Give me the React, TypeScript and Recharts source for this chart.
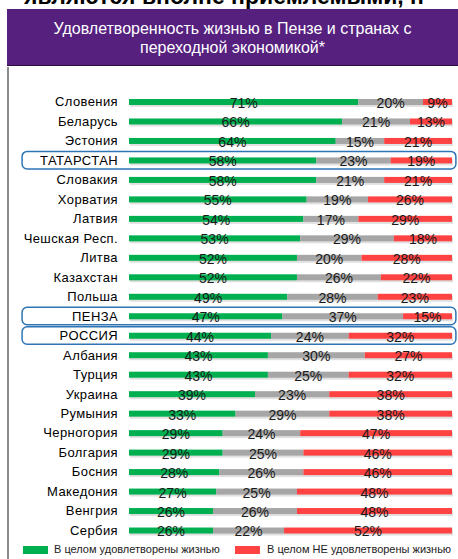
import React from "react";
import { BarChart, Bar, XAxis, YAxis, LabelList, ReferenceArea } from "recharts";

const countries = [
  "Словения", "Беларусь", "Эстония", "ТАТАРСТАН", "Словакия", "Хорватия",
  "Латвия", "Чешская Респ.", "Литва", "Казахстан", "Польша", "ПЕНЗА",
  "РОССИЯ", "Албания", "Турция", "Украина", "Румыния", "Черногория",
  "Болгария", "Босния", "Македония", "Венгрия", "Сербия",
];
const satisfied = [71, 66, 64, 58, 58, 55, 54, 53, 52, 52, 49, 47, 44, 43, 43, 39, 33, 29, 29, 28, 27, 26, 26];
const neutral = [20, 21, 15, 23, 21, 19, 17, 29, 20, 26, 28, 37, 24, 30, 25, 23, 29, 24, 25, 26, 25, 26, 22];
const unsatisfied = [9, 13, 21, 19, 21, 26, 29, 18, 28, 22, 23, 15, 32, 27, 32, 38, 38, 47, 46, 46, 48, 48, 52];
const highlighted = ["ТАТАРСТАН", "ПЕНЗА", "РОССИЯ"];

const data = countries.map((name, i) => ({
  name,
  yes: satisfied[i],
  mid: neutral[i],
  no: unsatisfied[i],
}));

const GREEN = "#00B050";
const GRAY = "#A6A6A6";
const RED = "#FF4343";
const FONT = "Arial, 'Liberation Sans', sans-serif";
const NUM_FONT = "'Liberation Sans Narrow', 'Arial Narrow', Arial, sans-serif";

function ShadowBar(props: any) {
  const { x, y, width, height, fill } = props;
  if (!width || width <= 0) return null;
  return (
    <g>
      <rect x={x + 1} y={y + 2} width={width} height={height} fill="#000" opacity={0.12} />
      <rect x={x} y={y} width={width} height={height} fill={fill} />
    </g>
  );
}

function HighlightBox(props: any) {
  const { x, y, width, height } = props;
  return (
    <rect
      x={x}
      y={y + 1}
      width={width}
      height={height - 2}
      rx={5}
      ry={5}
      fill="none"
      stroke="#2E75B6"
      strokeWidth={1.5}
    />
  );
}

const labelStyle = { fill: "#1a1a1a", fontSize: 14, fontFamily: NUM_FONT };
const pct = (v: any) => `${v}%`;

export default function App() {
  return (
    <div style={{ position: "absolute", left: 0, top: 0, width: 458, height: 559, overflow: "hidden", background: "#fff", fontFamily: FONT }}>
      <div style={{ position: "absolute", left: 24, top: -17, fontSize: 23, fontWeight: "bold", color: "#000", whiteSpace: "nowrap" }}>
        являются вполне приемлемыми, н
      </div>
      <div
        style={{
          position: "absolute",
          left: 7,
          top: 9,
          width: 451,
          height: 57,
          background: "#56207F",
          borderBottom: "1.5px solid #2a0f40",
          color: "#fff",
          fontSize: 16,
          lineHeight: "19px",
          textAlign: "center",
          paddingTop: 10,
          boxSizing: "border-box",
        }}
      >
        Удовлетворенность жизнью в Пензе и странах с
        <br />
        переходной экономикой*
      </div>
      <div style={{ position: "absolute", left: 7, top: 67, width: 2, height: 492, background: "#8c8c8c" }} />
      <div style={{ position: "absolute", left: 0, top: 0 }}>
        <BarChart
          width={458}
          height={559}
          data={data}
          layout="vertical"
          stackOffset="expand"
          barSize={6}
          margin={{ top: 92, right: 6, bottom: 19, left: 0 }}
        >
          <XAxis type="number" hide domain={[0, 1]} />
          <YAxis
            type="category"
            dataKey="name"
            width={129}
            axisLine={false}
            tickLine={false}
            tickSize={0}
            tickMargin={11}
            interval={0}
            tick={{ fill: "#000", fontSize: 13, fontFamily: FONT, letterSpacing: 0.4 }}
          />
          {highlighted.map((h) => (
            <ReferenceArea
              key={h}
              y1={h}
              y2={h}
              x1={-0.331}
              x2={1.012}
              ifOverflow="visible"
              shape={<HighlightBox />}
            />
          ))}
          <Bar dataKey="yes" stackId="s" fill={GREEN} shape={<ShadowBar />} isAnimationActive={false}>
            <LabelList dataKey="yes" position="center" formatter={pct} style={labelStyle} dy={1} />
          </Bar>
          <Bar dataKey="mid" stackId="s" fill={GRAY} shape={<ShadowBar />} isAnimationActive={false}>
            <LabelList dataKey="mid" position="center" formatter={pct} style={labelStyle} dy={1} />
          </Bar>
          <Bar dataKey="no" stackId="s" fill={RED} shape={<ShadowBar />} isAnimationActive={false}>
            <LabelList dataKey="no" position="center" formatter={pct} style={labelStyle} dy={1} />
          </Bar>
        </BarChart>
      </div>
      <div style={{ position: "absolute", left: 23, top: 546, width: 25, height: 8, background: GREEN }} />
      <div style={{ position: "absolute", left: 54, top: 543, fontSize: 11, color: "#222", whiteSpace: "nowrap" }}>
        В целом удовлетворены жизнью
      </div>
      <div style={{ position: "absolute", left: 235, top: 546, width: 25, height: 8, background: RED }} />
      <div style={{ position: "absolute", left: 267, top: 543, fontSize: 11, color: "#222", whiteSpace: "nowrap" }}>
        В целом НЕ удовлетворены жизнью
      </div>
    </div>
  );
}
